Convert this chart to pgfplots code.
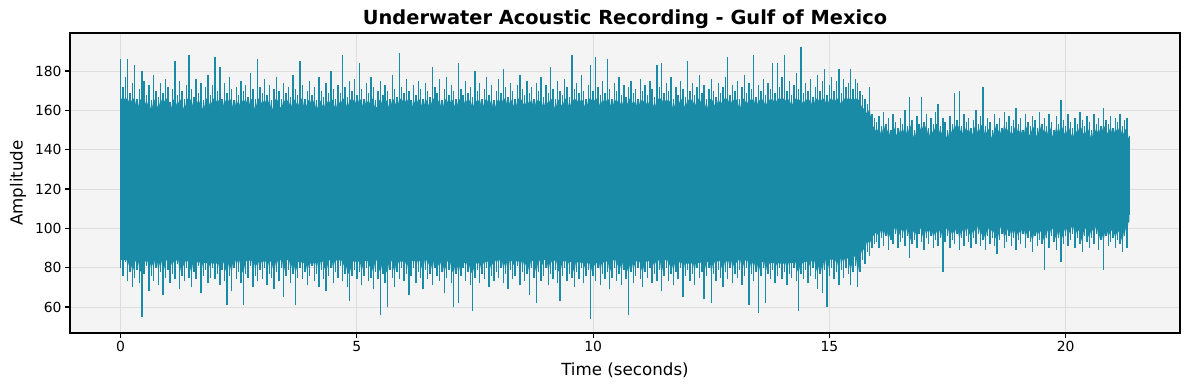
\documentclass[border=0pt]{standalone}
\usepackage{fontspec}
\setmainfont{DejaVu Sans}
\usepackage{pgfplots}
\pgfplotsset{compat=1.18}
\usepackage{pgfplotstable}
\usepgfplotslibrary{fillbetween}
\definecolor{wave}{RGB}{26,139,166}
\definecolor{bg}{RGB}{244,244,244}
\definecolor{gridc}{RGB}{222,222,222}

% spike extents (max / min of the waveform) every 0.05 s
\pgfplotstableread[row sep=\\]{
t hi lo\\
0.00 186 80\\ 0.05 172 76\\ 0.10 177 83\\ 0.15 186 73\\ 0.20 169 78\\ 0.25 174 70\\ 0.30 183 75\\ 0.35 166 79\\ 0.40 171 72\\ 0.45 180 55\\
0.50 175 77\\ 0.55 168 81\\ 0.60 173 68\\ 0.65 165 76\\ 0.70 178 73\\ 0.75 170 80\\ 0.80 167 71\\ 0.85 174 78\\ 0.90 169 66\\ 0.95 176 75\\
1.00 172 79\\ 1.05 164 72\\ 1.10 171 77\\ 1.15 185 74\\ 1.20 168 82\\ 1.25 175 69\\ 1.30 170 76\\ 1.35 166 73\\ 1.40 173 80\\ 1.45 188 75\\
1.50 171 70\\ 1.55 167 78\\ 1.60 176 74\\ 1.65 169 81\\ 1.70 174 67\\ 1.75 165 76\\ 1.80 172 79\\ 1.85 178 72\\ 1.90 168 75\\ 1.95 173 80\\
2.00 187 74\\ 2.05 170 77\\ 2.10 182 71\\ 2.15 166 79\\ 2.20 174 73\\ 2.25 169 61\\ 2.30 177 76\\ 2.35 171 68\\ 2.40 165 80\\ 2.45 172 74\\
2.50 168 78\\ 2.55 175 72\\ 2.60 170 61\\ 2.65 173 77\\ 2.70 167 75\\ 2.75 179 81\\ 2.80 171 70\\ 2.85 166 76\\ 2.90 186 73\\ 2.95 172 79\\
3.00 169 74\\ 3.05 176 80\\ 3.10 168 71\\ 3.15 173 77\\ 3.20 165 75\\ 3.25 171 69\\ 3.30 177 78\\ 3.35 170 73\\ 3.40 166 80\\ 3.45 174 65\\
3.50 169 76\\ 3.55 172 79\\ 3.60 167 72\\ 3.65 178 77\\ 3.70 171 61\\ 3.75 168 75\\ 3.80 185 80\\ 3.85 173 74\\ 3.90 166 78\\ 3.95 170 71\\
4.00 175 76\\ 4.05 168 81\\ 4.10 172 73\\ 4.15 165 77\\ 4.20 177 70\\ 4.25 170 79\\ 4.30 167 74\\ 4.35 174 68\\ 4.40 169 76\\ 4.45 180 80\\
4.50 171 72\\ 4.55 166 78\\ 4.60 173 75\\ 4.65 169 81\\ 4.70 188 73\\ 4.75 172 77\\ 4.80 167 70\\ 4.85 175 63\\ 4.90 170 76\\ 4.95 176 79\\
5.00 168 74\\ 5.05 184 78\\ 5.10 171 71\\ 5.15 166 76\\ 5.20 174 80\\ 5.25 169 73\\ 5.30 177 75\\ 5.35 172 69\\ 5.40 165 78\\ 5.45 170 74\\
5.50 175 56\\ 5.55 168 77\\ 5.60 173 72\\ 5.65 170 60\\ 5.70 166 79\\ 5.75 178 75\\ 5.80 171 70\\ 5.85 167 78\\ 5.90 189 74\\ 5.95 172 80\\
6.00 169 73\\ 6.05 176 77\\ 6.10 170 66\\ 6.15 165 76\\ 6.20 173 80\\ 6.25 168 72\\ 6.30 175 78\\ 6.35 171 75\\ 6.40 166 69\\ 6.45 174 79\\
6.50 170 74\\ 6.55 167 77\\ 6.60 182 71\\ 6.65 172 80\\ 6.70 169 76\\ 6.75 176 73\\ 6.80 165 78\\ 6.85 171 67\\ 6.90 177 75\\ 6.95 168 79\\
7.00 173 72\\ 7.05 170 60\\ 7.10 166 77\\ 7.15 184 62\\ 7.20 171 76\\ 7.25 168 80\\ 7.30 175 73\\ 7.35 169 78\\ 7.40 172 71\\ 7.45 167 58\\
7.50 180 75\\ 7.55 170 79\\ 7.60 174 72\\ 7.65 166 77\\ 7.70 171 74\\ 7.75 177 80\\ 7.80 168 70\\ 7.85 173 76\\ 7.90 165 73\\ 7.95 170 78\\
8.00 176 75\\ 8.05 169 80\\ 8.10 181 72\\ 8.15 172 77\\ 8.20 167 69\\ 8.25 174 79\\ 8.30 170 74\\ 8.35 166 76\\ 8.40 173 81\\ 8.45 178 71\\
8.50 171 78\\ 8.55 168 73\\ 8.60 175 77\\ 8.65 169 66\\ 8.70 172 80\\ 8.75 166 75\\ 8.80 174 62\\ 8.85 170 78\\ 8.90 177 73\\ 8.95 167 76\\
9.00 173 80\\ 9.05 169 71\\ 9.10 182 77\\ 9.15 171 74\\ 9.20 166 79\\ 9.25 175 72\\ 9.30 170 63\\ 9.35 168 76\\ 9.40 176 80\\ 9.45 172 73\\
9.50 167 77\\ 9.55 188 75\\ 9.60 171 70\\ 9.65 174 78\\ 9.70 169 74\\ 9.75 178 80\\ 9.80 170 72\\ 9.85 166 76\\ 9.90 173 79\\ 9.95 183 54\\
10.00 170 76\\ 10.05 187 73\\ 10.10 172 80\\ 10.15 168 71\\ 10.20 175 77\\ 10.25 169 74\\ 10.30 186 78\\ 10.35 171 69\\ 10.40 166 75\\ 10.45 174 80\\
10.50 170 73\\ 10.55 177 77\\ 10.60 168 71\\ 10.65 173 79\\ 10.70 167 74\\ 10.75 172 56\\ 10.80 175 78\\ 10.85 169 72\\ 10.90 171 76\\ 10.95 166 80\\
11.00 176 74\\ 11.05 170 70\\ 11.10 173 78\\ 11.15 168 75\\ 11.20 175 80\\ 11.25 171 72\\ 11.30 167 77\\ 11.35 183 73\\ 11.40 172 79\\ 11.45 184 68\\
11.50 169 76\\ 11.55 174 80\\ 11.60 170 73\\ 11.65 177 77\\ 11.70 166 71\\ 11.75 172 78\\ 11.80 168 74\\ 11.85 175 80\\ 11.90 171 65\\ 11.95 167 76\\
12.00 185 79\\ 12.05 170 73\\ 12.10 174 77\\ 12.15 168 71\\ 12.20 172 80\\ 12.25 178 75\\ 12.30 169 78\\ 12.35 173 64\\ 12.40 166 76\\ 12.45 171 80\\
12.50 176 62\\ 12.55 170 77\\ 12.60 167 73\\ 12.65 174 79\\ 12.70 169 75\\ 12.75 172 70\\ 12.80 177 78\\ 12.85 187 74\\ 12.90 168 80\\ 12.95 173 72\\
13.00 170 77\\ 13.05 175 75\\ 13.10 166 79\\ 13.15 172 71\\ 13.20 178 76\\ 13.25 169 80\\ 13.30 174 61\\ 13.35 171 77\\ 13.40 188 73\\ 13.45 167 78\\
13.50 173 57\\ 13.55 170 76\\ 13.60 176 80\\ 13.65 168 62\\ 13.70 174 77\\ 13.75 171 74\\ 13.80 184 79\\ 13.85 169 72\\ 13.90 184 76\\ 13.95 172 80\\
14.00 177 74\\ 14.05 188 78\\ 14.10 170 71\\ 14.15 175 77\\ 14.20 168 75\\ 14.25 173 80\\ 14.30 179 73\\ 14.35 171 58\\ 14.40 192 77\\ 14.45 169 74\\
14.50 174 79\\ 14.55 170 72\\ 14.60 176 76\\ 14.65 167 80\\ 14.70 172 74\\ 14.75 178 69\\ 14.80 170 77\\ 14.85 175 67\\ 14.90 181 79\\ 14.95 168 60\\
15.00 173 76\\ 15.05 177 80\\ 15.10 170 74\\ 15.15 175 78\\ 15.20 181 71\\ 15.25 169 79\\ 15.30 176 75\\ 15.35 172 80\\ 15.40 174 77\\ 15.45 181 71\\
15.50 171 78\\ 15.55 176 81\\ 15.60 174 70\\ 15.65 170 78\\ 15.70 168 84\\ 15.75 166 82\\ 15.80 163 88\\ 15.85 172 86\\ 15.90 158 90\\ 15.95 156 92\\
16.00 154 93\\ 16.05 157 90\\ 16.10 152 95\\ 16.15 159 91\\ 16.20 153 96\\ 16.25 156 89\\ 16.30 150 94\\ 16.35 158 92\\ 16.40 154 97\\ 16.45 151 90\\
16.50 156 93\\ 16.55 153 95\\ 16.60 160 91\\ 16.65 152 96\\ 16.70 167 85\\ 16.75 155 92\\ 16.80 150 94\\ 16.85 157 90\\ 16.90 153 97\\ 16.95 167 93\\
17.00 154 89\\ 17.05 158 95\\ 17.10 151 92\\ 17.15 156 96\\ 17.20 153 90\\ 17.25 159 94\\ 17.30 163 91\\ 17.35 152 95\\ 17.40 156 78\\ 17.45 154 93\\
17.50 150 96\\ 17.55 157 90\\ 17.60 153 94\\ 17.65 169 92\\ 17.70 155 97\\ 17.75 170 89\\ 17.80 152 95\\ 17.85 158 91\\ 17.90 154 96\\ 17.95 156 93\\
18.00 151 90\\ 18.05 155 95\\ 18.10 160 92\\ 18.15 153 97\\ 18.20 157 91\\ 18.25 172 94\\ 18.30 152 89\\ 18.35 156 96\\ 18.40 154 92\\ 18.45 150 95\\
18.50 158 91\\ 18.55 153 87\\ 18.60 156 94\\ 18.65 151 97\\ 18.70 159 90\\ 18.75 154 93\\ 18.80 157 96\\ 18.85 152 91\\ 18.90 155 95\\ 18.95 161 89\\
19.00 153 94\\ 19.05 156 92\\ 19.10 150 97\\ 19.15 158 90\\ 19.20 154 95\\ 19.25 152 93\\ 19.30 157 88\\ 19.35 155 96\\ 19.40 151 91\\ 19.45 159 94\\
19.50 153 92\\ 19.55 156 79\\ 19.60 152 95\\ 19.65 158 90\\ 19.70 154 96\\ 19.75 150 93\\ 19.80 157 89\\ 19.85 153 95\\ 19.90 165 83\\ 19.95 155 92\\
20.00 152 96\\ 20.05 158 91\\ 20.10 154 94\\ 20.15 151 97\\ 20.20 156 90\\ 20.25 153 95\\ 20.30 159 92\\ 20.35 155 88\\ 20.40 152 96\\ 20.45 157 93\\
20.50 154 90\\ 20.55 150 95\\ 20.60 158 92\\ 20.65 153 97\\ 20.70 156 89\\ 20.75 152 94\\ 20.80 161 79\\ 20.85 155 96\\ 20.90 153 91\\ 20.95 157 93\\
21.00 151 95\\ 21.05 156 90\\ 21.10 154 94\\ 21.15 158 92\\ 21.20 152 88\\ 21.25 155 96\\ 21.30 156 90\\ 21.35 147 107\\
}\spikes

% dense core band of the waveform
\pgfplotstableread[row sep=\\]{
t up dn\\
0.00 162 84\\ 0.50 161 83\\ 1.00 162 84\\ 1.50 160 83\\ 2.00 162 82\\ 2.50 161 84\\
3.00 160 83\\ 3.50 162 84\\ 4.00 161 82\\ 4.50 162 84\\ 5.00 160 83\\ 5.50 162 84\\
6.00 161 83\\ 6.50 160 84\\ 7.00 162 83\\ 7.50 161 82\\ 8.00 162 84\\ 8.50 160 83\\
9.00 161 84\\ 9.50 162 83\\ 10.00 161 82\\ 10.50 160 84\\ 11.00 162 83\\ 11.50 161 84\\
12.00 162 82\\ 12.50 160 83\\ 13.00 161 84\\ 13.50 162 83\\ 14.00 161 82\\ 14.50 162 83\\
15.00 161 84\\ 15.50 160 85\\ 15.60 158 87\\ 15.70 154 92\\ 15.80 150 96\\ 15.90 148 99\\
16.00 147 100\\ 16.50 146 101\\ 17.00 147 102\\ 17.50 146 101\\ 18.00 147 102\\ 18.50 146 101\\
19.00 147 102\\ 19.50 146 101\\ 20.00 147 102\\ 20.50 146 101\\ 21.00 147 102\\ 21.35 146 103\\
}\core

\begin{document}
\begin{tikzpicture}
\begin{axis}[
  at={(70pt,57pt)}, anchor=south west,
  scale only axis, width=1110pt, height=300pt,
  xmin=-1.07, xmax=22.42, ymin=46.8, ymax=199.3,
  axis background/.style={fill=bg},
  grid=major, major grid style={gridc, line width=0.8pt},
  xtick={0,5,10,15,20}, ytick={60,80,100,120,140,160,180},
  tick align=outside, tick pos=left, major tick length=4.9pt,
  every tick/.style={black, line width=1.1pt},
  axis line style={line width=1.1pt},
  ticklabel style={font=\fontsize{13.9}{16}\selectfont},
  /pgf/number format/assume math mode=true,
  xlabel={Time (seconds)}, ylabel={Amplitude},
  title={Underwater Acoustic Recording - Gulf of Mexico},
  every axis x label/.style={at={(axis description cs:0.5,-0.1233)}, anchor=center, font=\fontsize{16.7}{20}\selectfont},
  every axis y label/.style={at={(axis description cs:-0.0468,0.5)}, anchor=center, rotate=90, font=\fontsize{16.7}{20}\selectfont},
  every axis title/.style={at={(axis description cs:0.5,1.0467)}, anchor=center, font=\bfseries\fontsize{19.4}{23}\selectfont},
]
\addplot[name path=U, draw=none, forget plot] table[x=t, y=up] {\core};
\addplot[name path=D, draw=none, forget plot] table[x=t, y=dn] {\core};
\addplot[fill=wave, draw=none, forget plot] fill between[of=U and D];
% ragged edge of the dense band, following the waveform extremes
\addplot[name path=U2, draw=none, forget plot] table[x=t,
  y expr={ifthenelse(\thisrow{t}<15.68, min(\thisrow{hi},172)-6, ifthenelse(\thisrow{t}<15.88, min(\thisrow{hi},166)-5, min(\thisrow{hi},158)-5))}] {\spikes};
\addplot[name path=D2, draw=none, forget plot] table[x=t,
  y expr={ifthenelse(\thisrow{t}<15.68, max(\thisrow{lo},70)+7, ifthenelse(\thisrow{t}<15.88, max(\thisrow{lo},80)+6, max(\thisrow{lo},88)+5))}] {\spikes};
\addplot[fill=wave, draw=none, forget plot] fill between[of=U2 and D2];
\addplot[draw=none, mark=none, forget plot,
  error bars/.cd, y dir=plus, y explicit, error mark=none,
  error bar style={draw=wave, line width=1.4pt}]
  table[x=t, y=lo, y error expr=\thisrow{hi}-\thisrow{lo}] {\spikes};
\end{axis}
\pgfresetboundingbox
\useasboundingbox (0,0) rectangle (1189pt,390pt);
\end{tikzpicture}
\end{document}
